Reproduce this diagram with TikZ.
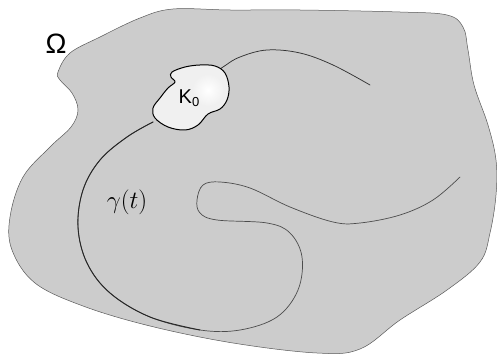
\documentclass[tikz,border=0pt]{standalone}
\usepackage{fontspec}
\newfontfamily\labfont{Liberation Sans}
\begin{document}
\begin{tikzpicture}[x=1pt,y=-1pt,
  region/.style={fill=regionfill, draw=gray!70!black, line width=0.5pt},
  blobstyle/.style={draw=black, line width=1pt, line join=round},
  curvestyle/.style={line cap=round, line join=round}]
\definecolor{regionfill}{RGB}{204,204,204}
\definecolor{blobfill}{RGB}{240,240,240}
\useasboundingbox (0,0) rectangle (497,358);
% region Omega
\draw[region] plot[smooth cycle, tension=0.6] coordinates {
 (58,72) (70,53) (100,37) (140,18) (173,9) (230,10) (300,10) (400,12) (447,15) (463,27)
 (468,50) (474,85) (488,125) (496,160) (496,195) (490,233) (480,262) (447,290)
 (400,320) (360,349) (317,353) (233,343) (150,326) (83,306) (35,283) (12,250)
 (10,217) (23,177) (50,147) (71,127) (78,110) (72,93) (60,80)};
% curve gamma
\draw[curvestyle, draw=gray!60!black, line width=0.7pt] plot[smooth, tension=0.6] coordinates {
 (153,122) (127,137) (100,160) (83,190) (78,227) (87,263) (110,293) (150,317)
 (200,330) (240,330) (277,317) (298,290) (302,257) (290,233) (267,223) (217,220)
 (200,213) (197,200) (203,185) (220,182) (250,188) (290,207) (333,222) (360,223)
 (400,215) (433,200) (460,177)};
\draw[curvestyle, draw=black!85, line width=0.9pt] plot[smooth, tension=0.6] coordinates {
 (153,122) (127,137) (100,160) (83,190) (78,227) (87,263) (110,293) (150,317) (200,330)};
\draw[curvestyle, draw=gray!40!black, line width=0.75pt] plot[smooth, tension=0.6] coordinates {
 (190,90) (223,67) (240,57) (267,50) (300,53) (333,65) (370,85)};
% blob K0
\fill[blobfill] plot[smooth cycle, tension=0.6] coordinates {
 (172,72) (185,67) (200,65) (215,66) (225,73) (229,87) (227,100) (220,109) (208,114)
 (198,125) (185,130) (168,127) (155,118) (153,108) (160,98) (168,88) (175,82) (171,77)};
\begin{scope}
\clip plot[smooth cycle, tension=0.6] coordinates {
 (172,72) (185,67) (200,65) (215,66) (225,73) (229,87) (227,100) (220,109) (208,114)
 (198,125) (185,130) (168,127) (155,118) (153,108) (160,98) (168,88) (175,82) (171,77)};
\shade[inner color=white, outer color=blobfill] (208,90) circle (16);
\end{scope}
\draw[blobstyle] plot[smooth cycle, tension=0.6] coordinates {
 (172,72) (185,67) (200,65) (215,66) (225,73) (229,87) (227,100) (220,109) (208,114)
 (198,125) (185,130) (168,127) (155,118) (153,108) (160,98) (168,88) (175,82) (171,77)};
% labels
\node (omega) at (56,44) {\labfont\fontsize{28}{30}\selectfont Ω};
\node (k0) at (189,98) {\labfont\fontsize{20}{22}\selectfont K\raisebox{-0.15em}{\fontsize{13}{14}\selectfont 0}};
\node (gamma) at (127,202) {\fontsize{29}{32}\selectfont $\gamma(t)$};
\end{tikzpicture}
\end{document}
